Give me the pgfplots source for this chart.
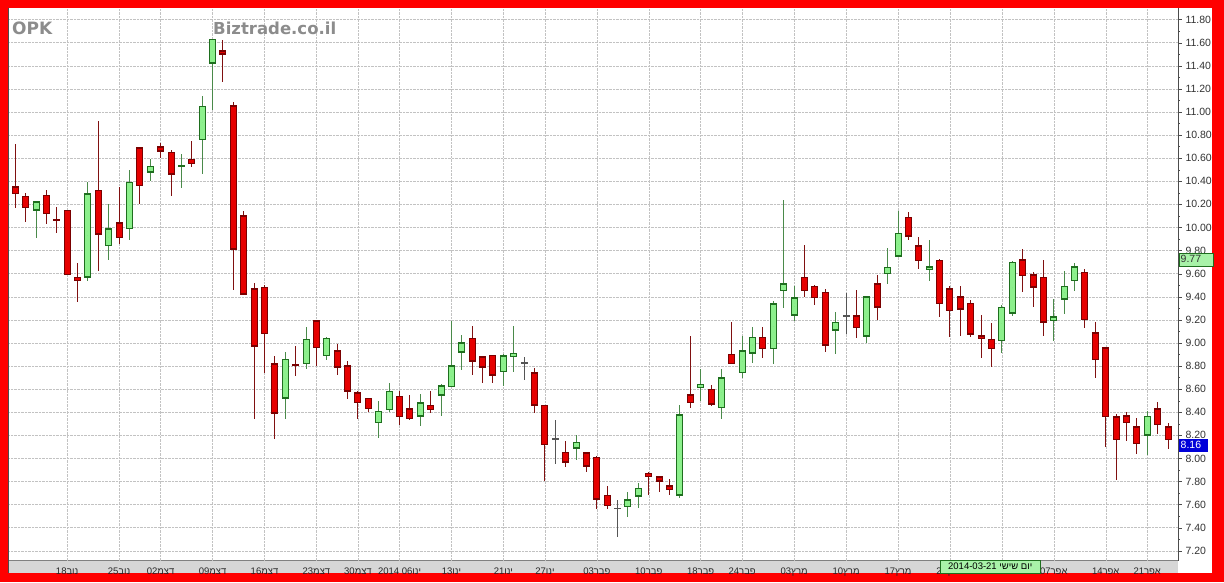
\documentclass[border=0pt]{standalone}
\usepackage{fontspec}
\usepackage{pgfplots}
\pgfplotsset{compat=1.18}
\usepackage{pgfplotstable}
\setmainfont{Liberation Sans}
\newfontfamily\hebfont[Script=Hebrew]{Liberation Sans}
\newfontfamily\titlefont{DejaVu Sans}
\TeXXeTstate=1
\newcommand{\heb}[1]{{\hebfont\beginR#1\endR}}

\definecolor{frame}{HTML}{FF0000}
\definecolor{redfill}{HTML}{E60000}
\definecolor{redline}{HTML}{7A0000}
\definecolor{redwick}{HTML}{801010}
\definecolor{grnfill}{HTML}{8CF08C}
\definecolor{grnline}{HTML}{1E6E1E}
\definecolor{grnwick}{HTML}{4A8A4A}
\definecolor{dojicol}{HTML}{555555}
\definecolor{band}{HTML}{D6D6D6}
\definecolor{hilite}{HTML}{A8F2A8}

% k = trading day from 11 Nov 2013; open high low close
\pgfplotstableread{
k O H L C
0 10.35 10.72 10.17 10.29
1 10.27 10.30 10.05 10.17
3 10.28 10.32 10.03 10.12
4 10.07 10.18 9.95 10.06
5 10.15 10.15 9.59 9.59
6 9.57 9.69 9.35 9.54
8 10.32 10.92 9.62 9.94
10 10.04 10.35 9.86 9.91
12 10.69 10.69 10.20 10.36
14 10.70 10.73 10.60 10.66
15 10.65 10.67 10.27 10.46
17 10.59 10.75 10.52 10.55
20 11.53 11.62 11.26 11.50
21 11.055 11.09 9.455 9.81
22 10.10 10.145 9.42 9.42
23 9.47 9.52 8.34 8.97
24 9.48 9.50 8.74 9.08
25 8.82 8.89 8.165 8.39
27 8.815 8.97 8.71 8.81
29 9.19 9.19 8.80 8.96
31 8.93 8.99 8.72 8.79
32 8.80 8.84 8.51 8.58
33 8.57 8.585 8.34 8.48
34 8.52 8.52 8.40 8.43
37 8.54 8.58 8.29 8.36
38 8.43 8.55 8.335 8.345
40 8.46 8.58 8.39 8.42
44 9.04 9.15 8.72 8.84
45 8.88 8.88 8.655 8.79
46 8.895 8.895 8.65 8.72
50 8.74 8.785 8.395 8.46
51 8.46 8.46 7.80 8.12
53 8.055 8.15 7.925 7.965
55 8.05 8.05 7.88 7.93
56 8.01 8.02 7.56 7.645
57 7.68 7.76 7.56 7.59
61 7.87 7.885 7.68 7.84
62 7.84 7.84 7.71 7.80
63 7.765 7.82 7.68 7.73
65 8.55 9.06 8.44 8.48
67 8.60 8.635 8.45 8.47
69 8.90 9.185 8.815 8.82
72 9.05 9.14 8.87 8.95
76 9.57 9.85 9.40 9.45
77 9.49 9.505 9.33 9.39
78 9.44 9.47 8.925 8.98
81 9.235 9.46 9.045 9.13
83 9.51 9.59 9.20 9.31
86 10.09 10.13 9.89 9.925
87 9.84 9.915 9.64 9.71
89 9.715 9.73 9.22 9.34
90 9.47 9.49 9.05 9.28
91 9.40 9.49 9.06 9.29
92 9.345 9.37 9.055 9.075
93 9.06 9.24 8.87 9.035
94 9.03 9.17 8.79 8.95
97 9.72 9.815 9.44 9.58
98 9.59 9.61 9.31 9.48
99 9.57 9.72 9.06 9.18
103 9.61 9.64 9.125 9.20
104 9.09 9.18 8.70 8.855
105 8.96 8.96 8.10 8.36
106 8.36 8.385 7.81 8.16
107 8.37 8.40 8.15 8.31
108 8.275 8.35 8.04 8.125
110 8.43 8.49 8.21 8.29
111 8.275 8.31 8.08 8.16
}\downtab

\pgfplotstableread{
k O H L C
2 10.15 10.23 9.91 10.22
7 9.57 10.39 9.54 10.29
9 9.84 10.20 9.72 9.99
11 9.99 10.50 9.89 10.39
13 10.48 10.59 10.40 10.53
16 10.53 10.64 10.34 10.535
18 10.76 11.14 10.46 11.05
19 11.42 11.63 11.02 11.63
26 8.52 8.92 8.34 8.86
28 8.82 9.14 8.77 9.03
30 8.89 9.05 8.85 9.04
35 8.31 8.50 8.175 8.41
36 8.42 8.65 8.40 8.58
39 8.365 8.56 8.28 8.48
41 8.545 8.64 8.365 8.63
42 8.62 9.19 8.62 8.80
43 8.92 9.07 8.765 9.00
47 8.75 8.90 8.63 8.89
48 8.88 9.15 8.745 8.91
54 8.09 8.20 7.99 8.14
59 7.58 7.71 7.49 7.64
60 7.67 7.79 7.57 7.74
64 7.68 8.46 7.66 8.38
66 8.61 8.77 8.50 8.64
68 8.44 8.77 8.345 8.70
70 8.74 9.06 8.70 8.93
71 8.91 9.14 8.83 9.05
73 8.95 9.36 8.82 9.34
74 9.45 10.24 9.30 9.51
75 9.24 9.49 9.19 9.39
79 9.11 9.27 8.90 9.18
82 9.06 9.40 9.00 9.40
84 9.60 9.82 9.51 9.655
85 9.75 10.14 9.75 9.95
88 9.64 9.895 9.54 9.66
95 9.02 9.33 8.91 9.31
96 9.255 9.71 9.23 9.70
100 9.19 9.38 9.02 9.225
101 9.38 9.62 9.25 9.49
102 9.54 9.69 9.45 9.66
109 8.20 8.41 8.03 8.365
}\uptab

\pgfplotstableread{
k O H L C
49 8.83 8.88 8.68 8.825
52 8.17 8.33 7.95 8.17
58 7.57 7.64 7.32 7.57
80 9.235 9.43 9.08 9.235
}\dojitab

\pgfplotsset{
  candle/.style={only marks, mark=*, mark size=0pt,
    mark options={draw=none, fill=none},
    error bars/.cd, y dir=both, y explicit, error mark=none},
}
% wick, body outline, body fill
\newcommand{\wicks}[2]{%
  \addplot[candle, error bar style={line width=1pt, color=#2}]
    table[x=k, y expr={(\thisrow{H}+\thisrow{L})/2},
          y error expr={(\thisrow{H}-\thisrow{L})/2}] {#1};}
\newcommand{\bodies}[2]{%
  \addplot[candle, error bar style={line width=7pt, color=#2}]
    table[x=k, y expr={(\thisrow{O}+\thisrow{C})/2},
          y error expr={abs(\thisrow{C}-\thisrow{O})/2+0.0045}] {#1};}
\newcommand{\fills}[2]{%
  \addplot[candle, error bar style={line width=5pt, color=#2}]
    table[x=k, y expr={(\thisrow{O}+\thisrow{C})/2},
          y error expr={max(abs(\thisrow{C}-\thisrow{O})/2-0.0087,0)}] {#1};}

\begin{document}
\begin{tikzpicture}
  \fill[frame] (0,0) rectangle (1224pt,582pt);
  \fill[white] (8pt,9pt) rectangle (1212pt,574pt);
  \fill[band] (8pt,9pt) rectangle (1178pt,21.3pt);
  \draw[gray, line width=0.6pt] (8pt,21.3pt) -- (1178pt,21.3pt);

  \begin{axis}[
      at={(8pt,21.3pt)}, anchor=south west,
      x=10.385pt, y=115.48pt,
      xmin=-0.70, xmax=111.96, ymin=7.114, ymax=11.90,
      axis x line*=bottom, axis y line*=right,
      x axis line style={opacity=0},
      y axis line style={draw=black!70, line width=0.8pt},
      clip=true,
      xmajorgrids, ymajorgrids,
      grid style={densely dotted, black!24},
      tick align=outside,
      xtick style={draw=none},
      ytick style={black!70},
      major tick length=4pt, minor tick length=2pt,
      minor y tick num=1,
      xtick={5,10,14,19,24,29,33,37,42,47,51,56,61,66,70,75,80,85,90,95,100,105,109},
      xticklabels={
        {18\heb{נוב}}, {25\heb{נוב}}, {02\heb{דצמ}}, {09\heb{דצמ}},
        {16\heb{דצמ}}, {23\heb{דצמ}}, {30\heb{דצמ}}, {2014 06\heb{ינו}},
        {13\heb{ינו}}, {21\heb{ינו}}, {27\heb{ינו}}, {03\heb{פבר}},
        {10\heb{פבר}}, {18\heb{פבר}}, {24\heb{פבר}}, {03\heb{מרץ}},
        {10\heb{מרץ}}, {17\heb{מרץ}}, {24\heb{מרץ}}, {},
        {07\heb{אפר}}, {14\heb{אפר}}, {21\heb{אפר}}},
      x tick label style={font=\fontsize{9.5}{10}\selectfont, text=black!85,
        anchor=base, yshift=-9.6pt, inner sep=0pt},
      ytick={7.2,7.4,7.6,7.8,8.0,8.2,8.4,8.6,8.8,9.0,9.2,9.4,9.6,9.8,10.0,
             10.2,10.4,10.6,10.8,11.0,11.2,11.4,11.6,11.8},
      y tick label style={/pgf/number format/.cd, fixed, fixed zerofill,
        precision=2, assume math mode=true, /tikz/.cd,
        font=\fontsize{10.5}{12}\selectfont, text=black!80},
    ]
    \wicks{\downtab}{redwick}
    \wicks{\uptab}{grnwick}
    \wicks{\dojitab}{dojicol}
    \bodies{\downtab}{redline}
    \bodies{\uptab}{grnline}
    \bodies{\dojitab}{dojicol}
    \fills{\downtab}{redfill}
    \fills{\uptab}{grnfill}
  \end{axis}

  \draw[black!70, line width=1pt] (8.5pt,9pt) -- (8.5pt,574pt);
  \node[anchor=base west, inner sep=0pt, text=black!45,
        font=\titlefont\bfseries\fontsize{17}{20}\selectfont] at (12pt,547pt) {OPK};
  \node[anchor=base west, inner sep=0pt, text=black!45,
        font=\titlefont\bfseries\fontsize{16.5}{20}\selectfont] at (213pt,547pt) {Biztrade.co.il};

  \node[draw=grnline, fill=hilite, anchor=south west, minimum width=34pt,
        minimum height=13pt, inner sep=1.5pt, text=black!80,
        font=\fontsize{10.5}{12}\selectfont, align=left, text width=30pt]
        at (1178.5pt,316pt) {9.77};
  \node[fill=blue!85!black, anchor=south west, minimum width=29pt,
        minimum height=13pt, inner sep=1.5pt, text=white,
        font=\fontsize{10.5}{12}\selectfont, text width=25pt]
        at (1178.5pt,130pt) {8.16};
  \node[draw=grnline, fill=hilite, anchor=south west, minimum width=100pt,
        minimum height=12.3pt, inner sep=1pt, text=black,
        font=\fontsize{9.5}{10}\selectfont]
        at (940pt,9pt) {2014-03-21 \heb{יום שישי}};

  \pgfresetboundingbox
  \useasboundingbox (0,0) rectangle (1224pt,582pt);
\end{tikzpicture}
\end{document}
